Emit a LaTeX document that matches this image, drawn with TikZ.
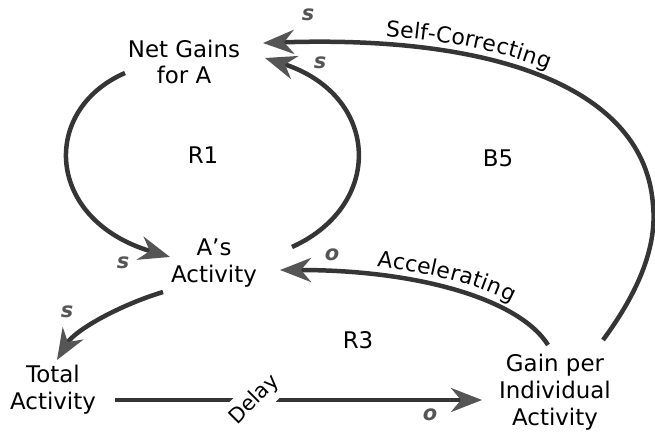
\documentclass[tikz,border=0pt]{standalone}
\usepackage{fontspec}
\setmainfont{DejaVu Sans}
\usetikzlibrary{arrows.meta,decorations.text}
\definecolor{linkgray}{HTML}{353535}
\definecolor{headgray}{HTML}{555555}
\begin{document}
\begin{tikzpicture}[x=1bp,y=-1bp,
  var/.style={align=center,font=\fontsize{23}{27}\selectfont,inner sep=0},
  loopname/.style={font=\fontsize{23}{27}\selectfont},
  pol/.style={text=headgray,inner sep=0,font=\fontsize{21}{22}\selectfont\bfseries\itshape},
  link/.style={draw=linkgray,line width=4.5bp,-{Stealth[length=31bp,width=24bp,inset=10bp,color=headgray]}},
  delay/.style={fill=white,rotate=45,inner sep=6bp,font=\fontsize{21}{24}\selectfont},
  looptext/.style 2 args={postaction={decorate,decoration={text along path,reverse path,
    text={|\fontsize{22}{27}\selectfont|#1},text align={left,left indent=#2},raise=9bp}}}]
  \useasboundingbox (0,0) rectangle (655,435);
  \node[var] (net) at (184,62) {Net Gains\\for A};
  \node[var] (acts) at (214,263) {A’s\\Activity};
  \node[var] (total) at (53,390) {Total\\Activity};
  \node[var] (gain) at (555,392) {Gain per\\Individual\\Activity};
  \node[loopname] (r1) at (203,155) {R1};
  \node[loopname] (b5) at (498,158) {B5};
  \node[loopname] (r3) at (358,340) {R3};
  \draw[link] ([shift={(-59,11)}]net.center) .. controls (40,110) and (45,220) .. ([shift={(-44,-6)}]acts.center);
  \draw[link] ([shift={(78,-16)}]acts.center) .. controls (385,205) and (380,95) .. ([shift={(81,-4)}]net.center);
  \draw[link,looptext={Self-Correcting}{122bp}] ([shift={(48,-52)}]gain.center) .. controls (640,290) and (657,245) .. (653,205)
    .. controls (645,90) and (500,35) .. ([shift={(79,-19)}]net.center);
  \draw[link,looptext={Accelerating}{96bp}] ([shift={(-7,-47)}]gain.center) .. controls (520,300) and (420,270) .. ([shift={(66,7)}]acts.center);
  \draw[link] ([shift={(-51,29)}]acts.center) .. controls (120,305) and (75,330) .. ([shift={(4,-30)}]total.center);
  \draw[link] ([shift={(62,10)}]total.center) -- node[delay,pos=.38] (dl) {Delay} ([shift={(-73,8)}]gain.center);
  \node[pol] (p1) at (308,15) {s};
  \node[pol] (p2) at (320,63) {s};
  \node[pol] (p3) at (123,263) {s};
  \node[pol] (p4) at (332,255) {o};
  \node[pol] (p5) at (67,312) {s};
  \node[pol] (p6) at (430,415) {o};
\end{tikzpicture}
\end{document}
